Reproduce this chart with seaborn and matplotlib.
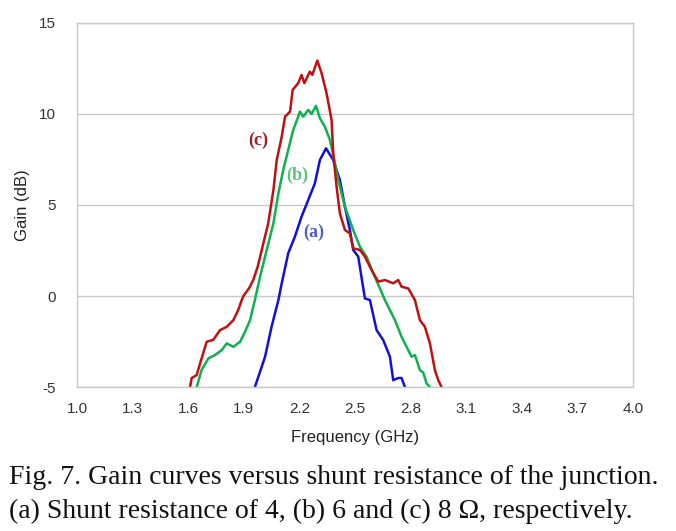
import pandas as pd
import numpy as np
import matplotlib
matplotlib.use("Agg")
import matplotlib.pyplot as plt
import seaborn as sns

# curve (a): shunt resistance 4 ohm
freq_a = [1.960, 2.015, 2.050, 2.087, 2.105, 2.140, 2.176, 2.212, 2.248, 2.284, 2.311, 2.344,
          2.383, 2.419, 2.446, 2.473, 2.491, 2.518, 2.554, 2.581, 2.617, 2.653, 2.689, 2.707,
          2.734, 2.752, 2.770]
gain_a = [-5.0, -3.33, -1.69, -0.22, 0.70, 2.35, 3.26, 4.36, 5.27, 6.19, 7.47, 8.11,
          7.47, 6.37, 4.91, 3.63, 2.53, 2.16, -0.13, -0.22, -1.87, -2.42, -3.33, -4.62,
          -4.50, -4.50, -5.0]

# curve (b): 6 ohm
freq_b = [1.646, 1.672, 1.709, 1.745, 1.781, 1.808, 1.844, 1.880, 1.907, 1.934, 1.960, 1.988,
          2.024, 2.060, 2.087, 2.113, 2.140, 2.167, 2.194, 2.203, 2.221, 2.248, 2.266, 2.290,
          2.311, 2.338, 2.365, 2.380, 2.410, 2.446, 2.491, 2.527, 2.563, 2.599, 2.635, 2.662,
          2.689, 2.716, 2.752, 2.779, 2.806, 2.824, 2.851, 2.869, 2.887, 2.905]
gain_b = [-5.0, -4.07, -3.42, -3.24, -2.97, -2.60, -2.79, -2.51, -1.96, -1.32, -0.22, 1.06,
          2.53, 3.99, 5.64, 6.92, 8.02, 9.12, 9.85, 10.13, 9.85, 10.22, 10.00, 10.44,
          9.76, 9.30, 8.57, 7.90, 6.37, 4.91, 3.63, 2.71, 2.16, 1.25, 0.42, -0.22,
          -0.77, -1.32, -2.24, -2.79, -3.33, -3.24, -4.07, -4.20, -4.80, -5.0]

# curve (c): 8 ohm
freq_c = [1.610, 1.619, 1.646, 1.664, 1.700, 1.736, 1.772, 1.808, 1.844, 1.870, 1.889, 1.898,
          1.930, 1.951, 1.975, 1.997, 2.032, 2.060, 2.078, 2.105, 2.123, 2.150, 2.164, 2.194,
          2.212, 2.227, 2.257, 2.270, 2.297, 2.320, 2.347, 2.374, 2.383, 2.401, 2.419, 2.446,
          2.473, 2.491, 2.527, 2.554, 2.590, 2.626, 2.662, 2.707, 2.734, 2.752, 2.788, 2.824,
          2.851, 2.878, 2.905, 2.932, 2.950, 2.968]
gain_c = [-5.0, -4.50, -4.34, -3.70, -2.51, -2.40, -1.87, -1.69, -1.32, -0.77, -0.22, 0.0,
          0.45, 0.88, 1.60, 2.53, 3.99, 5.82, 7.47, 8.75, 9.85, 10.13, 11.32, 11.69,
          12.14, 11.69, 12.32, 12.14, 12.93, 12.24, 11.14, 9.67, 7.84, 6.01, 4.54, 3.63,
          3.44, 2.62, 2.53, 2.16, 1.43, 0.79, 0.88, 0.70, 0.88, 0.51, 0.42, -0.22,
          -1.32, -1.69, -2.60, -4.07, -4.62, -5.0]

x_ticks = [1.0, 1.3, 1.6, 1.9, 2.2, 2.5, 2.8, 3.1, 3.4, 3.7, 4.0]
y_ticks = [-5, 0, 5, 10, 15]

df = pd.concat([
    pd.DataFrame({"freq": freq_a, "gain": gain_a, "curve": "a"}),
    pd.DataFrame({"freq": freq_b, "gain": gain_b, "curve": "b"}),
    pd.DataFrame({"freq": freq_c, "gain": gain_c, "curve": "c"}),
])

sns.set_style("white")
plt.rcParams["font.family"] = ["Liberation Sans", "DejaVu Sans"]
plt.rcParams["axes.unicode_minus"] = False

fig = plt.figure(figsize=(6.76, 5.31), dpi=100)
ax = fig.add_axes([0.114, 0.271, 0.822, 0.686])

palette = {"a": "#1010d8", "b": "#10b050", "c": "#c01010"}
sns.lineplot(data=df, x="freq", y="gain", hue="curve", palette=palette,
             sort=False, estimator=None, linewidth=1.8, legend=False, ax=ax)

ax.set_xlim(1.0, 4.0)
ax.set_ylim(-5, 15)
ax.set_xticks(x_ticks)
ax.set_xticklabels([f"{t:.1f}" for t in x_ticks])
ax.set_yticks(y_ticks)
ax.grid(axis="y", color="#c8c8c8", linewidth=1.0)
ax.set_axisbelow(True)
for s in ax.spines.values():
    s.set_color("#c8c8c8")
    s.set_linewidth(1.0)
ax.tick_params(axis="both", length=0, labelsize=11, colors="#333333")
ax.tick_params(axis="x", pad=11)
ax.tick_params(axis="y", pad=15)
ax.set_xlabel("Frequency (GHz)", fontsize=12, color="#222222", labelpad=10)
ax.set_ylabel("Gain (dB)", fontsize=12, color="#222222", labelpad=7)

serif = ["Liberation Serif", "DejaVu Serif"]
ax.text(1.98, 8.57, "(c)", color="#9b1c2e", fontsize=13, fontweight="bold", family=serif, ha="center", va="center")
ax.text(2.19, 6.65, "(b)", color="#5cc27a", fontsize=13, fontweight="bold", family=serif, ha="center", va="center")
ax.text(2.28, 3.5, "(a)", color="#4e5fbf", fontsize=13, fontweight="bold", family=serif, ha="center", va="center")

fig.text(0.013, 0.10, "Fig. 7. Gain curves versus shunt resistance of the junction.",
         family=serif, fontsize=20, color="#111111", va="center")
fig.text(0.013, 0.036, "(a) Shunt resistance of 4, (b) 6 and (c) 8 \u03a9, respectively.",
         family=serif, fontsize=20, color="#111111", va="center")

fig.savefig("out.png", dpi=100)
